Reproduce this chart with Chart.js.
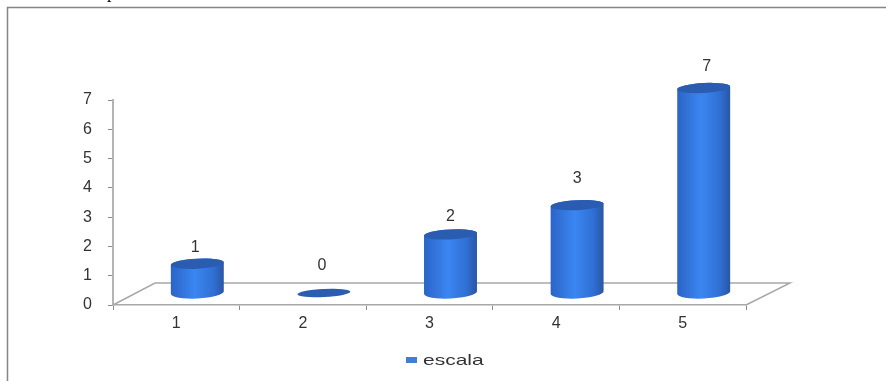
<!DOCTYPE html>
<html>
<head>
<meta charset="utf-8">
<title>escala</title>
<script src="https://cdn.jsdelivr.net/npm/chart.js@4/dist/chart.umd.min.js"></script>
<style>
    html, body { margin: 0; padding: 0; background: #fff; overflow: hidden; }
    canvas { display: block; }
</style>
</head>
<body>
<canvas id="escala-chart" width="886" height="381"></canvas>
<script>
const categories = ['1', '2', '3', '4', '5'];
const seriesName = 'escala';
const seriesValues = [1, 0, 2, 3, 7];
const yTickLabels = ['0', '1', '2', '3', '4', '5', '6', '7'];

// Floor depth of the pseudo-3D plot, and where the cylinders stand on it.
const FLOOR_DX = 42;
const FLOOR_DY = 22;
const BAR_DX = 21;
const BAR_DY = 12;
const BAR_TILT = -0.05;
const TOP_RADIUS = 5;

// Extra lift above the cylinder top for each value label.
const labelLift = [16, 27, 18, 27, 21];
const labelNudge = [-2, -2, 0, 0, 3];

const AXIS_GREY = '#a8a8a8';
const TEXT_GREY = '#333333';
const FONT = "'Liberation Sans', Arial, sans-serif";

// Bar element that paints a cylinder instead of a flat rectangle.
class CylinderElement extends Chart.BarElement {
    static id = 'cylinder';

    draw(ctx) {
        const { x, y, base, width } = this.getProps(['x', 'y', 'base', 'width']);
        const cx = x + BAR_DX;
        const topY = y - BAR_DY;
        const baseY = base - BAR_DY;
        const a = width / 2;

        ctx.save();
        if (baseY - topY > 1) {
            const body = ctx.createLinearGradient(cx - a, 0, cx + a, 0);
            body.addColorStop(0, '#2b64c6');
            body.addColorStop(0.45, '#3b86f2');
            body.addColorStop(0.8, '#3070d4');
            body.addColorStop(1, '#2a55a5');
            ctx.beginPath();
            ctx.ellipse(cx, baseY, a, TOP_RADIUS + 1, BAR_TILT, Math.PI, 0, true);
            ctx.ellipse(cx, topY, a, TOP_RADIUS, BAR_TILT, 0, Math.PI, true);
            ctx.closePath();
            ctx.fillStyle = body;
            ctx.fill();
        }
        ctx.beginPath();
        ctx.ellipse(cx, topY, a, baseY - topY > 1 ? TOP_RADIUS : 4, BAR_TILT, 0, Math.PI * 2);
        ctx.fillStyle = '#2a5cb2';
        ctx.fill();
        ctx.restore();
    }
}

class CylinderController extends Chart.BarController {
    static id = 'cylinder3d';
    static defaults = { ...Chart.BarController.defaults, dataElementType: 'cylinder' };
    static overrides = Chart.BarController.overrides;
}

Chart.register(CylinderElement, CylinderController);

// Outer frame and the cut-off line of text above it.
const framePlugin = {
    id: 'frame',
    beforeDraw(chart) {
        const ctx = chart.ctx;
        ctx.save();
        ctx.strokeStyle = '#858585';
        ctx.lineWidth = 1.5;
        ctx.beginPath();
        ctx.moveTo(7.5, chart.height);
        ctx.lineTo(7.5, 7.5);
        ctx.lineTo(chart.width, 7.5);
        ctx.stroke();
        ctx.fillStyle = '#000';
        ctx.font = "18px 'Liberation Serif', serif";
        ctx.textBaseline = 'alphabetic';
        ctx.fillText('p', 107, -2);
        ctx.restore();
    }
};

// Back edges of the floor, drawn behind the cylinders.
const floorPlugin = {
    id: 'floor',
    beforeDatasetsDraw(chart) {
        const { x, y } = chart.scales;
        const zero = y.getPixelForValue(0);
        const ctx = chart.ctx;
        ctx.save();
        ctx.strokeStyle = AXIS_GREY;
        ctx.lineWidth = 1.5;
        ctx.beginPath();
        ctx.moveTo(x.left, zero);
        ctx.lineTo(x.left + FLOOR_DX, zero - FLOOR_DY);
        ctx.lineTo(x.right + FLOOR_DX + 2, zero - FLOOR_DY);
        ctx.lineTo(x.right, zero);
        ctx.stroke();
        ctx.restore();
    }
};

const valueLabelPlugin = {
    id: 'valueLabels',
    afterDatasetsDraw(chart) {
        const ctx = chart.ctx;
        const meta = chart.getDatasetMeta(0);
        ctx.save();
        ctx.fillStyle = TEXT_GREY;
        ctx.font = '16px ' + FONT;
        ctx.textAlign = 'center';
        ctx.textBaseline = 'middle';
        meta.data.forEach((bar, i) => {
            ctx.fillText(String(seriesValues[i]), bar.x + BAR_DX + labelNudge[i], bar.y - BAR_DY - labelLift[i]);
        });
        ctx.restore();
    }
};

// Legend entry with the wide lettering of the original sheet.
const legendPlugin = {
    id: 'wideLegend',
    afterDraw(chart) {
        const ctx = chart.ctx;
        ctx.save();
        ctx.fillStyle = '#3f7fd6';
        ctx.fillRect(406, 357, 11, 6);
        ctx.fillStyle = TEXT_GREY;
        ctx.font = '15px ' + FONT;
        ctx.textBaseline = 'middle';
        ctx.translate(423, 361);
        ctx.scale(1.4, 1);
        ctx.fillText(chart.data.datasets[0].label, 0, 0);
        ctx.restore();
    }
};

new Chart(document.getElementById('escala-chart'), {
    type: 'cylinder3d',
    data: {
        labels: categories,
        datasets: [{
            label: seriesName,
            data: seriesValues,
            barThickness: 53,
            clip: false,
            backgroundColor: '#3f7fd6'
        }]
    },
    plugins: [framePlugin, floorPlugin, valueLabelPlugin, legendPlugin],
    options: {
        responsive: false,
        animation: false,
        layout: { padding: { left: 0, right: 140, top: 100, bottom: 0 } },
        plugins: {
            legend: { display: false },
            tooltip: { enabled: false }
        },
        scales: {
            x: {
                type: 'category',
                offset: true,
                afterFit: scale => { scale.height = 76; },
                border: { color: AXIS_GREY, width: 1.5 },
                grid: { display: true, offset: true, drawOnChartArea: false, color: '#8c8c8c', tickLength: 5 },
                ticks: { color: TEXT_GREY, padding: 4, font: { family: FONT, size: 16 }, maxRotation: 0 }
            },
            y: {
                type: 'linear',
                min: 0,
                max: 7,
                afterFit: scale => { scale.width = 113; },
                border: { color: '#b4b4b4', width: 2 },
                grid: { display: true, drawOnChartArea: false, color: '#8c8c8c', tickLength: 5 },
                ticks: {
                    color: TEXT_GREY,
                    stepSize: 1,
                    padding: 16,
                    font: { family: FONT, size: 16 },
                    callback: (value) => yTickLabels[value]
                }
            }
        }
    }
});
</script>
</body>
</html>
